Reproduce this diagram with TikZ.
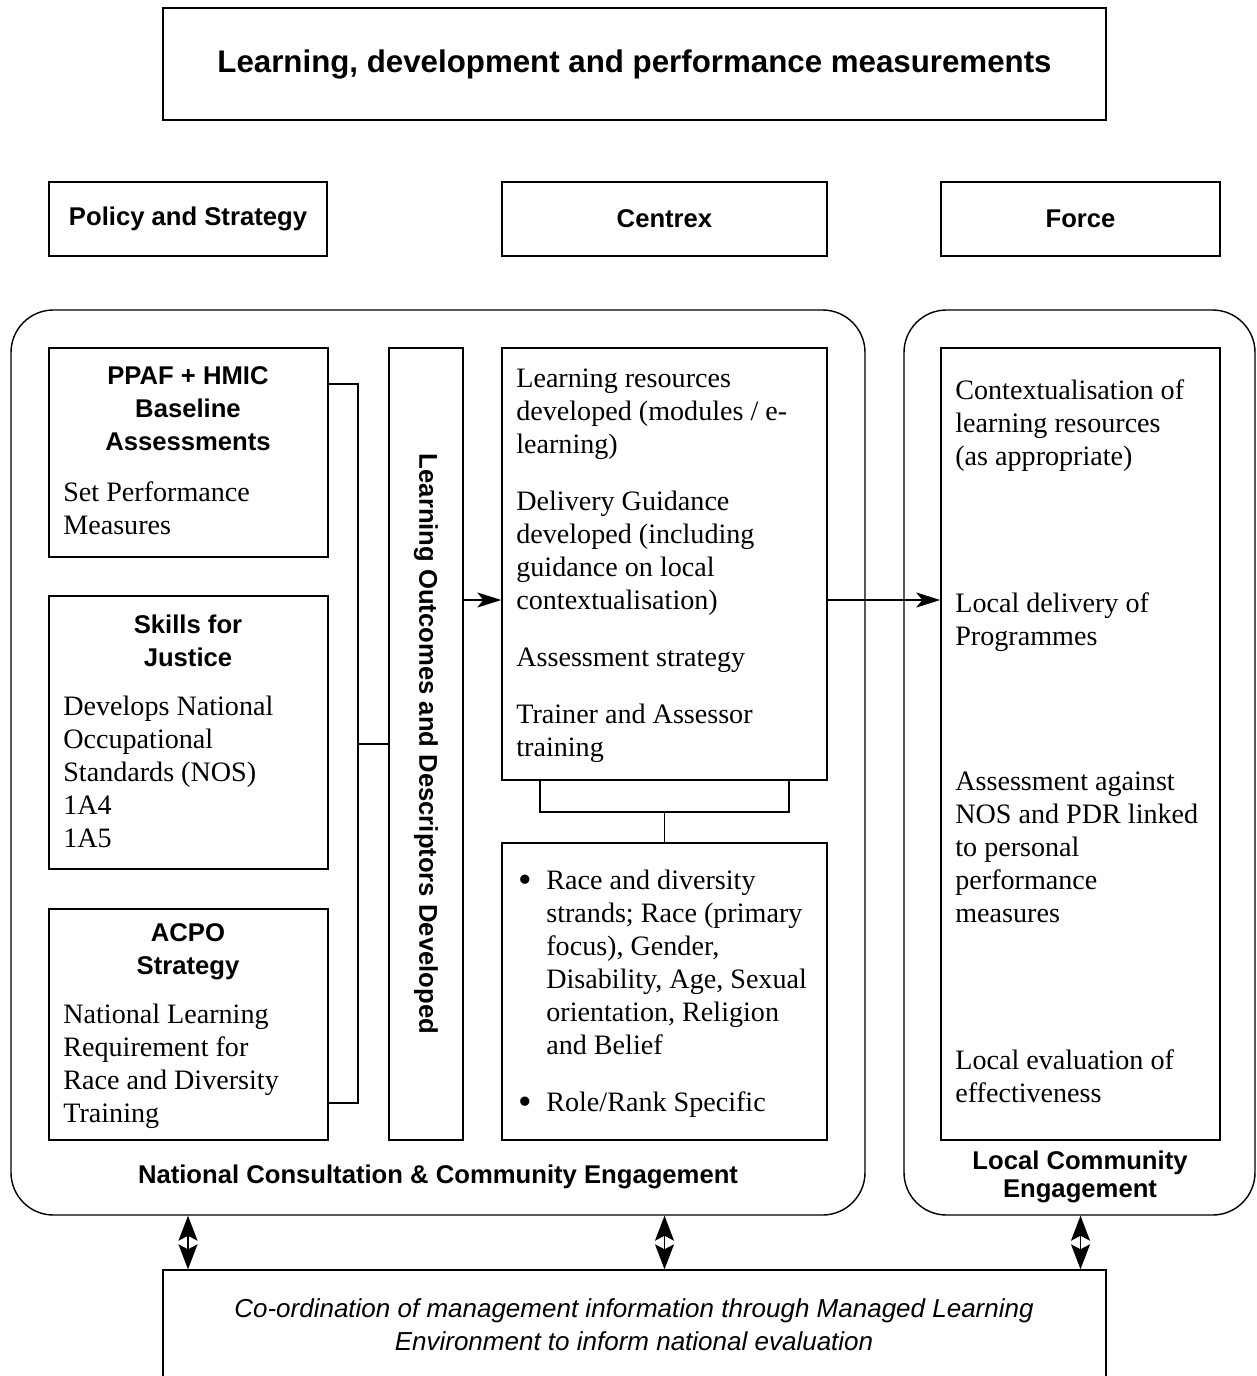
\documentclass[tikz,border=0pt]{standalone}
\usepackage{fontspec}
\setmainfont{Liberation Serif}
\setsansfont{Liberation Sans}
\usetikzlibrary{fit,arrows.meta}

\begin{document}
\begin{tikzpicture}[x=0.02cm, y=-0.02cm,
    box/.style={draw, line width=0.8pt, inner sep=0pt},
    roundbox/.style={box, rounded corners=0.85cm},
    head/.style={font=\sffamily\bfseries\fontsize{14.6}{18.8}\selectfont, align=center, inner sep=0pt},
    body/.style={font=\fontsize{16}{18.8}\selectfont, align=left, inner sep=0pt, anchor=north west},
    flow/.style={-{Stealth[length=0.48cm, width=0.3cm, inset=0.12cm]}, line width=0.8pt},
    twoway/.style={{Stealth[length=0.5cm, width=0.38cm, inset=0.1cm]}-{Stealth[length=0.5cm, width=0.38cm, inset=0.1cm]}, line width=0.8pt}]
  % page of the reference, in pixels
  \useasboundingbox (0,0) rectangle (1257,1376);
  % gap between paragraphs
  \def\pgap {0.48cm}
  % list bullet
  \def\bul {\llap{\raisebox{-1.5pt}{\fontsize{22}{22}\selectfont\textbullet}\hspace{8pt}}}
  % rounded frames
  \node[roundbox, fit={(11,310) (865,1215)}] (national) {};
  \node[roundbox, fit={(904,310) (1255,1215)}] (local) {};
  % plain boxes: name / top left / bottom right
  \foreach \name/\xa/\ya/\xb/\yb in {title/163/8/1106/120,
                                      policy/49/182/327/256,
                                      centrex/502/182/827/256,
                                      force/941/182/1220/256,
                                      ppaf/49/348/328/557,
                                      skills/49/596/328/869,
                                      acpo/49/909/328/1140,
                                      outcomes/389/348/463/1140,
                                      resources/502/348/827/780,
                                      race/502/843/827/1140,
                                      delivery/941/348/1220/1140,
                                      mle/163/1270/1106/1400}
  {
    \node[box, fit={(\xa,\ya) (\xb,\yb)}] (\name) {};
  }
  % headings
  \node[head, font=\sffamily\bfseries\fontsize{17.8}{20}\selectfont] (titlelabel) at (title) {Learning, development and performance measurements};
  \node[head] (policylabel) at (policy) {Policy and Strategy};
  \node[head] (centrexlabel) at (centrex) {Centrex};
  \node[head] (forcelabel) at (force) {Force};
  \node[head, anchor=north] (ppafhead) at (188,361) {\strut PPAF + HMIC\\Baseline\\Assessments};
  \node[head, anchor=north] (skillshead) at (188,610) {\strut Skills for\\Justice};
  \node[head, anchor=north] (acpohead) at (188,918) {\strut ACPO\\Strategy};
  \node[head, rotate=-90] (outcomeslabel) at (outcomes) {Learning Outcomes and Descriptors Developed};
  \node[head] (nationallabel) at (438,1177) {National Consultation \& Community Engagement};
  \node[head, font=\sffamily\bfseries\fontsize{14.6}{16.4}\selectfont] (locallabel) at (1080,1177) {Local Community\\Engagement};
  % body texts
  \node[body] (ppaftext) at (63,478) {\strut Set Performance\\Measures};
  \node[body] (skillstext) at (63,692) {\strut Develops National\\Occupational\\Standards (NOS)\\1A4\\1A5};
  \node[body] (acpotext) at (63,1000) {\strut National Learning\\Requirement for\\Race and Diversity\\Training};
  \node[body] (resourcestext) at (516,364) {\strut Learning resources\\developed (modules / e-\\learning)\\[\pgap]
    Delivery Guidance\\developed (including\\guidance on local\\contextualisation)\\[\pgap]
    Assessment strategy\\[\pgap]
    Trainer and Assessor\\training};
  \node[body] (racetext) at (546,866) {\strut\bul Race and diversity\\strands; Race (primary\\focus), Gender,\\Disability, Age, Sexual\\orientation, Religion\\and Belief\\[\pgap]
    \bul Role/Rank Specific};
  \node[body] (delivtexta) at (955,376) {\strut Contextualisation of\\learning resources\\(as appropriate)};
  \node[body] (delivtextb) at (955,589) {\strut Local delivery of\\Programmes};
  \node[body] (delivtextc) at (955,767) {\strut Assessment against\\NOS and PDR linked\\to personal\\performance\\measures};
  \node[body] (delivtextd) at (955,1046) {\strut Local evaluation of\\effectiveness};
  \node[font=\sffamily\itshape\fontsize{14.8}{18.8}\selectfont, align=center, inner sep=0pt] (mlelabel) at (634,1325)
    {Co-ordination of management information through Managed Learning\\Environment to inform national evaluation};
  % bracket joining the three source boxes
  \coordinate (bt) at (358,384);
  \coordinate (bb) at (358,1103);
  \draw[line width=0.8pt] (ppaf.east |- bt) -- (bt) -- (bb) -- (acpo.east |- bb);
  \draw[line width=0.8pt] (outcomes.west) -- (outcomes.west -| bt);
  % main flow
  \coordinate (flowline) at (0,600);
  \draw[flow] (outcomes.east |- flowline) -- (resources.west |- flowline);
  \draw[flow] (resources.east |- flowline) -- (delivery.west |- flowline);
  % join below the resources box
  \coordinate (jl) at (540,812);
  \coordinate (jr) at (789,812);
  \draw[line width=0.8pt] (resources.south -| jl) -- (jl) -- (jr) -- (resources.south -| jr);
  \draw[line width=0.8pt] (race.north) -- (race.north |- jl);
  % links to the management information box
  \draw[twoway] (national.south -| policy) -- (mle.north -| policy);
  \draw[twoway] (national.south -| centrex) -- (mle.north -| centrex);
  \draw[twoway] (local.south -| force) -- (mle.north -| force);
\end{tikzpicture}
\end{document}
